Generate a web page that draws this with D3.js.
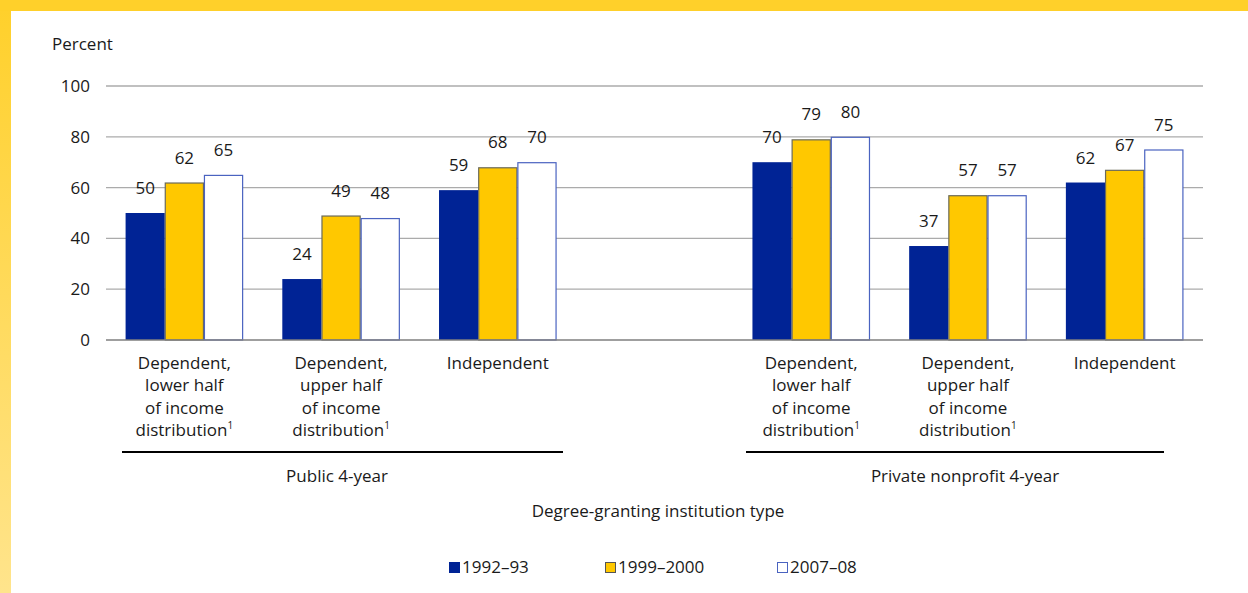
<!DOCTYPE html>
<html><head><meta charset="utf-8">
<script src="https://cdn.jsdelivr.net/npm/d3@7"></script>
<style>
html,body{margin:0;padding:0;background:#fff;}
svg{display:block;font-family:"Open Sans",sans-serif;}
</style></head>
<body>
<svg id="chart" width="1248" height="593"></svg>
<script>
const sectors = ["Public 4-year", "Private nonprofit 4-year"];
const categories = [
  {sector: 0, lines: ["Dependent,", "lower half", "of income", "distribution"], note: true},
  {sector: 0, lines: ["Dependent,", "upper half", "of income", "distribution"], note: true},
  {sector: 0, lines: ["Independent"], note: false},
  {sector: 1, lines: ["Dependent,", "lower half", "of income", "distribution"], note: true},
  {sector: 1, lines: ["Dependent,", "upper half", "of income", "distribution"], note: true},
  {sector: 1, lines: ["Independent"], note: false}
];
const slots = ["p1", "p2", "p3", "gap", "q1", "q2", "q3"];
const categorySlots = ["p1", "p2", "p3", "q1", "q2", "q3"];
const seriesNames = ["1992–93", "1999–2000", "2007–08"];
const values1992 = [50, 24, 59, 70, 37, 62];
const values1999 = [62, 49, 68, 79, 57, 67];
const values2007 = [65, 48, 70, 80, 57, 75];
const yTicks = [0, 20, 40, 60, 80, 100];

const series = [values1992, values1999, values2007];
const fills = ["#002395", "#FFC800", "#FFFFFF"];
const strokes = ["#002395", "#6b6a5a", "#4a63c0"];

const svg = d3.select("#chart");
const W = 1248, H = 593;

// frame
const defs = svg.append("defs");
const lg = defs.append("linearGradient").attr("id", "lf").attr("x1", 0).attr("y1", 0).attr("x2", 0).attr("y2", 1);
lg.append("stop").attr("offset", "0").attr("stop-color", "#FFD02A");
lg.append("stop").attr("offset", "1").attr("stop-color", "#FFE48C");
svg.append("rect").attr("x", 0).attr("y", 0).attr("width", W).attr("height", H).attr("fill", "#fff");
svg.append("rect").attr("x", 0).attr("y", 0).attr("width", 11).attr("height", H).attr("fill", "url(#lf)");
svg.append("rect").attr("x", 0).attr("y", 0).attr("width", W).attr("height", 11).attr("fill", "#FFD02A");

const x0 = d3.scaleBand().domain(slots).range([106, 1203]).paddingInner(0.25).paddingOuter(0.125);
const x1 = d3.scaleBand().domain(d3.range(series.length)).range([0, x0.bandwidth()]);
const y = d3.scaleLinear().domain([0, 100]).range([340, 86]);

const fs = 17;
const txt = "#1a1a1a";

// gridlines
svg.append("g").selectAll("line").data(yTicks.filter(t => t > 0)).join("line")
  .attr("x1", 106).attr("x2", 1203)
  .attr("y1", d => y(d)).attr("y2", d => y(d))
  .attr("stroke", "#ababab").attr("stroke-width", 1.3);

// y axis labels
const yAxis = d3.axisLeft(y).tickValues(yTicks).tickSize(0).tickPadding(0);
const ya = svg.append("g").attr("transform", "translate(90,0)").call(yAxis);
ya.select(".domain").remove();
ya.selectAll("text").attr("font-size", fs).attr("fill", txt).attr("font-family", "Open Sans");

svg.append("text").attr("x", 52).attr("y", 50).attr("font-size", fs).attr("fill", txt).text("Percent");

// bars
categories.forEach((c, i) => {
  const gx = x0(categorySlots[i]);
  series.forEach((s, j) => {
    const v = s[i];
    const bx = gx + x1(j);
    const isOutline = j > 0;
    svg.append("rect")
      .attr("x", bx + (isOutline ? 0.5 : 0)).attr("y", y(v) + (isOutline ? 0.5 : 0))
      .attr("width", x1.bandwidth() - (isOutline ? 1 : 0))
      .attr("height", y(0) - y(v) - (isOutline ? 0.5 : 0))
      .attr("fill", fills[j])
      .attr("stroke", isOutline ? strokes[j] : "none")
      .attr("stroke-width", isOutline ? 1.2 : 0);
    svg.append("text").attr("x", bx + x1.bandwidth() / 2).attr("y", y(v) - 19)
      .attr("text-anchor", "middle").attr("font-size", fs).attr("fill", txt).text(v);
  });
  // category labels
  const cx = gx + x0.bandwidth() / 2;
  const t = svg.append("text").attr("text-anchor", "middle").attr("font-size", fs).attr("fill", txt);
  c.lines.forEach((ln, k) => {
    const ts = t.append("tspan").attr("x", cx).attr("y", 369 + k * 22.3).text(ln);
    if (c.note && k === c.lines.length - 1) {
      ts.append("tspan").attr("font-size", 10).attr("dy", -7).text("1");
    }
  });
});

// baseline
svg.append("line").attr("x1", 106).attr("x2", 1203).attr("y1", y(0)).attr("y2", y(0))
  .attr("stroke", "#7f7f7f").attr("stroke-width", 1.5);

// sector brackets
const sectorSpans = [[122, 563], [746, 1164]];
const sectorLabelX = [337, 965];
sectorSpans.forEach((s, i) => {
  svg.append("line").attr("x1", s[0]).attr("x2", s[1]).attr("y1", 452).attr("y2", 452)
    .attr("stroke", "#000").attr("stroke-width", 2);
  svg.append("text").attr("x", sectorLabelX[i]).attr("y", 482).attr("text-anchor", "middle")
    .attr("font-size", fs).attr("fill", txt).text(sectors[i]);
});

svg.append("text").attr("x", 658).attr("y", 517).attr("text-anchor", "middle")
  .attr("font-size", fs).attr("fill", txt).text("Degree-granting institution type");

// legend
const legX = [449, 605, 777];
const legStroke = ["#002395", "#555", "#4a63c0"];
seriesNames.forEach((n, j) => {
  svg.append("rect").attr("x", legX[j] + 0.5).attr("y", 562.5).attr("width", 10).attr("height", 10)
    .attr("fill", fills[j]).attr("stroke", legStroke[j]).attr("stroke-width", 1);
  svg.append("text").attr("x", legX[j] + 13).attr("y", 573).attr("font-size", fs).attr("fill", txt).text(n);
});
</script>
</body></html>
